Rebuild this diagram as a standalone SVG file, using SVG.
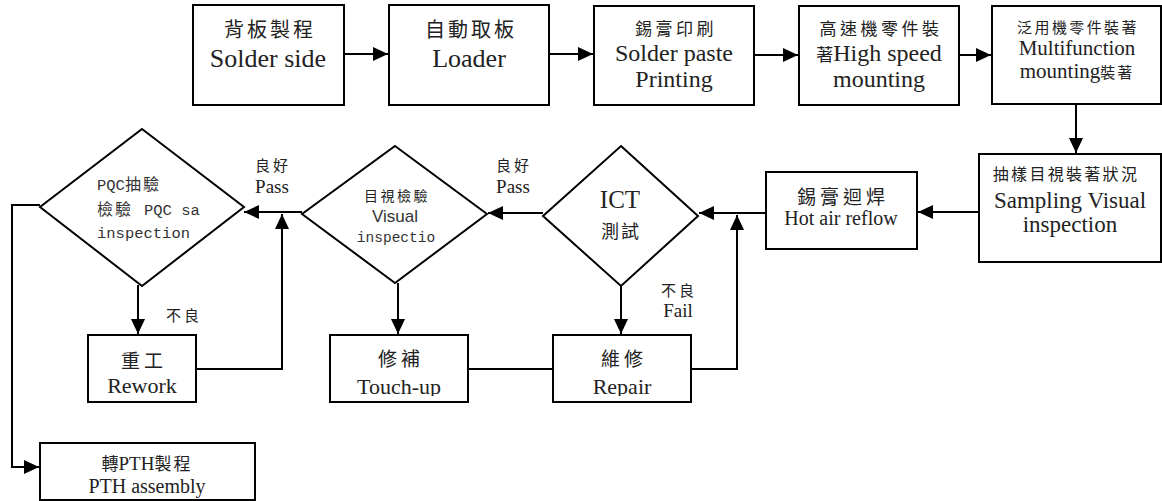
<svg xmlns="http://www.w3.org/2000/svg" width="1162" height="501" viewBox="0 0 1162 501">
<style>
.box{fill:#fff;stroke:#000;stroke-width:2}
.dia{fill:#fff;stroke:#000;stroke-width:2}
.ln{fill:none;stroke:#000;stroke-width:2}
.ser{font-family:"Liberation Serif","Noto Sans CJK TC",serif;fill:#222;text-anchor:middle}
.cjk{font-family:"Noto Sans CJK TC","Noto Sans CJK SC",sans-serif;fill:#222;text-anchor:middle}
.mono{font-family:"Liberation Mono","Noto Sans CJK TC",monospace;fill:#333}
.sans{font-family:"Liberation Sans Narrow","Liberation Sans",sans-serif;fill:#333;text-anchor:middle}
</style>
<defs>
<marker id="ah" markerUnits="userSpaceOnUse" markerWidth="15" markerHeight="14" refX="15" refY="7" orient="auto">
<path d="M0,0 L15,7 L0,14 z" fill="#000"/>
</marker>
<clipPath id="clipTU"><rect x="330" y="330" width="140" height="66"/></clipPath>
<clipPath id="clipRP"><rect x="553" y="330" width="140" height="66"/></clipPath>
</defs>

<g id="connectors">
<line class="ln" x1="344" y1="54" x2="388" y2="54" marker-end="url(#ah)"/>
<line class="ln" x1="549" y1="54" x2="593" y2="54" marker-end="url(#ah)"/>
<line class="ln" x1="754" y1="55" x2="798" y2="55" marker-end="url(#ah)"/>
<line class="ln" x1="959" y1="55" x2="991" y2="55" marker-end="url(#ah)"/>
<line class="ln" x1="1076" y1="105" x2="1076" y2="153" marker-end="url(#ah)"/>
<line class="ln" x1="979" y1="212" x2="918" y2="212" marker-end="url(#ah)"/>
<line class="ln" x1="766" y1="213" x2="699" y2="213" marker-end="url(#ah)"/>
<polyline class="ln" points="691,369 737,369 737,215" marker-end="url(#ah)"/>
<line class="ln" x1="543" y1="213" x2="488" y2="213" marker-end="url(#ah)"/>
<line class="ln" x1="302" y1="212" x2="244" y2="212" marker-end="url(#ah)"/>
<polyline class="ln" points="196,369 282,369 282,214" marker-end="url(#ah)"/>
<line class="ln" x1="138" y1="285" x2="138" y2="334" marker-end="url(#ah)"/>
<line class="ln" x1="398" y1="283" x2="398" y2="334" marker-end="url(#ah)"/>
<line class="ln" x1="621" y1="286" x2="621" y2="334" marker-end="url(#ah)"/>
<line class="ln" x1="468" y1="369" x2="553" y2="369"/>
<polyline class="ln" points="40,205 12,205 12,467 39,467" marker-end="url(#ah)"/>
<text class="cjk" x="273" y="171" font-size="15" letter-spacing="3">良好</text>
<text class="ser" x="272" y="193" font-size="19">Pass</text>
<text class="cjk" x="514" y="171" font-size="15" letter-spacing="3">良好</text>
<text class="ser" x="513" y="193" font-size="19">Pass</text>
<text class="cjk" x="184" y="321" font-size="15" letter-spacing="3">不良</text>
<text class="cjk" x="679" y="296" font-size="15" letter-spacing="3">不良</text>
<text class="ser" x="678" y="317" font-size="19">Fail</text>
</g>

<g id="n1">
<rect class="box" x="193" y="5" width="151" height="100"/>
<text class="cjk" x="270" y="37" font-size="20" letter-spacing="3">背板製程</text>
<text class="ser" x="268" y="67" font-size="26">Solder side</text>
</g>
<g id="n2">
<rect class="box" x="389" y="5" width="160" height="100"/>
<text class="cjk" x="471" y="37" font-size="20" letter-spacing="3">自動取板</text>
<text class="ser" x="469" y="67" font-size="26">Loader</text>
</g>
<g id="n3">
<rect class="box" x="594" y="6" width="160" height="99"/>
<text class="cjk" x="676" y="35" font-size="17" letter-spacing="3.5">錫膏印刷</text>
<text class="ser" x="674" y="61" font-size="24">Solder paste</text>
<text class="ser" x="674" y="87" font-size="24">Printing</text>
</g>
<g id="n4">
<rect class="box" x="799" y="6" width="160" height="99"/>
<text class="cjk" x="881" y="35" font-size="17" letter-spacing="3.5">高速機零件裝</text>
<text class="ser" x="879" y="61" font-size="24"><tspan font-family="Noto Sans CJK TC" font-size="17">著</tspan>High speed</text>
<text class="ser" x="879" y="87" font-size="24">mounting</text>
</g>
<g id="n5">
<rect class="box" x="992" y="6" width="169" height="98"/>
<text class="cjk" x="1078" y="33" font-size="15" letter-spacing="2.4">泛用機零件裝著</text>
<text class="ser" x="1077" y="55" font-size="21">Multifunction</text>
<text class="ser" x="1077" y="78" font-size="21">mounting<tspan font-family="Noto Sans CJK TC" font-size="15" letter-spacing="2">裝著</tspan></text>
</g>
<g id="n6">
<rect class="box" x="979" y="154" width="182" height="108"/>
<text class="cjk" x="1066" y="180" font-size="16" letter-spacing="2.3">抽樣目視裝著狀況</text>
<text class="ser" x="1070" y="208" font-size="23">Sampling Visual</text>
<text class="ser" x="1070" y="232" font-size="23">inspection</text>
</g>
<g id="n7">
<rect class="box" x="766" y="172" width="151" height="77"/>
<text class="cjk" x="843" y="204" font-size="19" letter-spacing="4">錫膏迴焊</text>
<text class="ser" x="841" y="225" font-size="20">Hot air reflow</text>
</g>
<g id="n8">
<polygon class="dia" points="621,146 698,216 621,286 543,216"/>
<text class="ser" x="620" y="208" font-size="25">ICT</text>
<text class="cjk" x="621" y="238" font-size="18" letter-spacing="2">測試</text>
</g>
<g id="n9">
<polygon class="dia" points="395,146 487,214 395,283 302,214"/>
<text class="cjk" x="397" y="201" font-size="14" letter-spacing="2.5">目視檢驗</text>
<text class="sans" x="395" y="222" font-size="17">Visual</text>
<text class="mono" x="396" y="242" font-size="14.5" text-anchor="middle">inspectio</text>
</g>
<g id="n10">
<polygon class="dia" points="142,129 244,207 142,286 40,207"/>
<text class="mono" y="190" font-size="15.5"><tspan x="97">PQC</tspan><tspan font-family="Noto Sans CJK TC" font-size="16" letter-spacing="2">抽驗</tspan></text>
<text class="mono" y="215" font-size="15.5"><tspan x="97" font-family="Noto Sans CJK TC" font-size="16" letter-spacing="2">檢驗</tspan><tspan x="144">PQC sa</tspan></text>
<text class="mono" x="97" y="238" font-size="15.5">inspection</text>
</g>
<g id="n11">
<rect class="box" x="88" y="335" width="108" height="67"/>
<text class="cjk" x="144" y="368" font-size="19" letter-spacing="4">重工</text>
<text class="ser" x="142" y="393" font-size="22">Rework</text>
</g>
<g id="n12">
<rect class="box" x="330" y="335" width="138" height="67"/>
<text class="cjk" x="401" y="366" font-size="19" letter-spacing="4">修補</text>
<text class="ser" x="399" y="394" font-size="22" clip-path="url(#clipTU)">Touch-up</text>
</g>
<g id="n13">
<rect class="box" x="553" y="335" width="138" height="67"/>
<text class="cjk" x="624" y="366" font-size="19" letter-spacing="4">維修</text>
<text class="ser" x="622" y="394" font-size="22" clip-path="url(#clipRP)">Repair</text>
</g>
<g id="n14">
<rect class="box" x="40" y="443" width="215" height="57"/>
<text class="ser" x="147" y="470" font-size="19"><tspan font-family="Noto Sans CJK TC" font-size="17">轉</tspan>PTH<tspan font-family="Noto Sans CJK TC" font-size="17" letter-spacing="2">製程</tspan></text>
<text class="ser" x="147" y="493" font-size="20">PTH assembly</text>
</g>
</svg>
